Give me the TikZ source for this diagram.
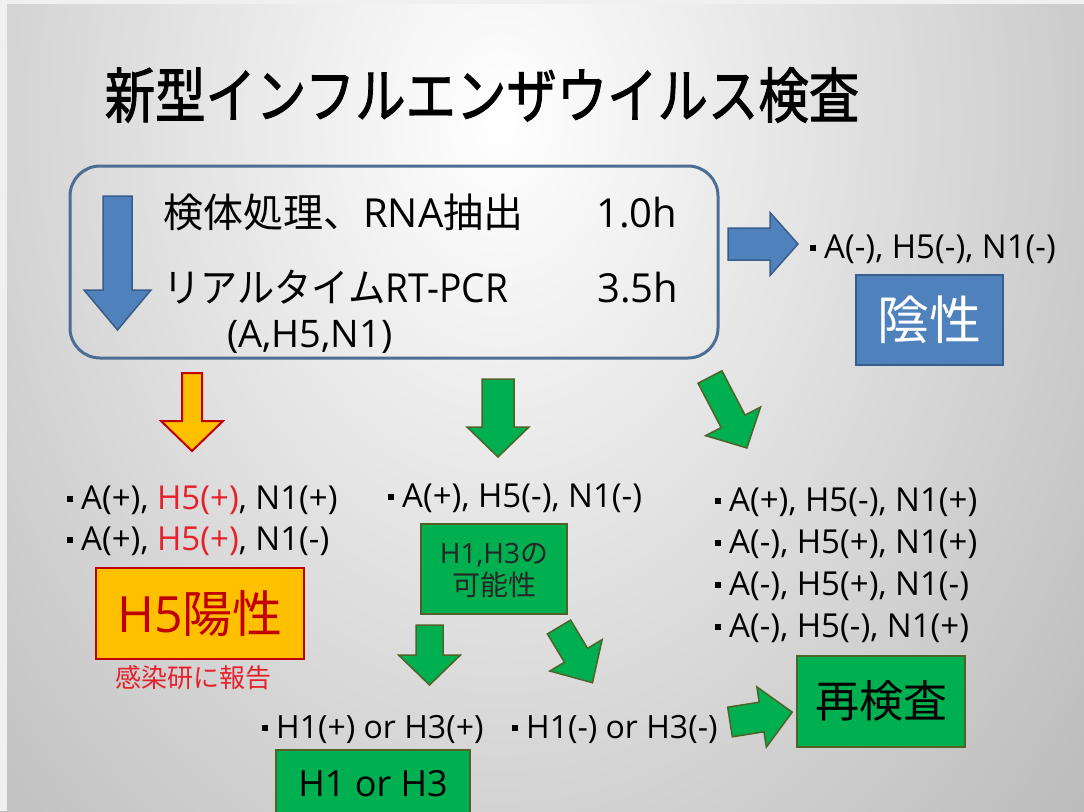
\documentclass[tikz,border=0pt]{standalone}
\usepackage{fontspec}
\usepackage{graphicx}
\setmainfont{Open Sans}
\newfontfamily\jp{Noto Sans CJK JP}
\newfontfamily\jpt[FakeBold=1.6]{Noto Sans CJK JP}
\definecolor{bluef}{HTML}{4F81BD}
\definecolor{blued}{HTML}{385D8A}
\definecolor{boxline}{HTML}{4A6E94}
\definecolor{orangef}{HTML}{FFC000}
\definecolor{redd}{HTML}{C00000}
\definecolor{redt}{HTML}{E8202A}
\definecolor{greenf}{HTML}{00B050}
\definecolor{greend}{HTML}{4F6228}
\newcommand\bul{\rule[7.5pt]{6pt}{6pt}\hspace{8pt}}
\tikzset{
  pics/barrow/.style args={#1/#2/#3/#4}{code={
    \path[pic actions] (-#1/2,0) -- (#1/2,0) -- (#1/2,#3) -- (#2/2,#3) -- (0,#4)
      -- (-#2/2,#3) -- (-#1/2,#3) -- cycle;
  }},
  base/.style={inner sep=0pt, text depth=0pt},
  t26/.style={base,font=\fontsize{26}{30}\selectfont,text height=19.2pt},
  t28/.style={base,font=\fontsize{28}{32}\selectfont,text height=20.7pt},
  t32/.style={base,font=\fontsize{32}{36}\selectfont,text height=23.7pt},
  t33/.style={base,font=\fontsize{33}{37}\selectfont,text height=24.4pt},
  t36/.style={base,font=\fontsize{36}{40}\selectfont,text height=26.6pt},
  t38/.style={base,font=\fontsize{38}{42}\selectfont,text height=28.1pt},
  t40/.style={base,font=\fontsize{40}{44}\selectfont,text height=29.6pt},
  t44/.style={base,font=\fontsize{44}{48}\selectfont,text height=32.6pt},
  t50/.style={base,font=\fontsize{50}{54}\selectfont,text height=37pt},
  t52/.style={base,font=\fontsize{52}{56}\selectfont,text height=38.5pt},
  item/.style={t33, anchor=west},
  hitem/.style={t32, anchor=west},
  bluearrow/.style={fill=bluef, draw=blued, line width=1.5pt},
  greenarrow/.style={fill=greenf, draw=greend, line width=1.5pt},
  orangearrow/.style={fill=orangef, draw=redd, line width=2pt},
  greenbox/.style={fill=greenf, draw=greend, line width=2pt},
}
\begin{document}
\begin{tikzpicture}[x=1pt,y=-1pt]
\useasboundingbox (0,0) rectangle (1084,811);
\begin{scope}
  \clip (0,0) rectangle (1084,811);
  \shade[inner color=white, outer color=black!55] (500,120) ellipse (1600pt and 2200pt);
  \fill[white!94!black] (0,0) rectangle (1084,4);
  \fill[white!94!black] (0,0) rectangle (7,811);
\end{scope}

% title
\node[font=\jpt\fontsize{60}{60}\selectfont] (title) at (482,95)
  {\scalebox{0.84}[1]{新型インフルエンザウイルス検査}};

% process box
\node[draw=boxline, line width=3pt, rounded corners=30pt,
      minimum width=648pt, minimum height=192pt] (proc) at (394,262) {};
\pic[bluearrow] (pa) at (117.5,196) {barrow={29/67/94/134}};
\node[t40, anchor=west] (s1) at (163,213) {{\jp 検体処理、}RNA{\jp 抽出}};
\node[t40, anchor=west] (s1t) at (596,213) {1.0h};
\node[t40, anchor=west] (s2) at (163,288) {\scalebox{0.93}[1]{{\jp リアルタイム}RT-PCR}};
\node[t40, anchor=west] (s2t) at (597,288) {3.5h};
\node[t38, anchor=west] (s3) at (227,333) {(A,H5,N1)};

% negative
\pic[bluearrow, rotate=90] (na) at (728,244) {barrow={32/63/42/70}};
\node[item] (n1) at (810,246) {\bul A(-), H5(-), N1(-)};
\node[t52, fill=bluef, draw=blued, line width=2pt, minimum width=147pt,
      minimum height=90pt, text=white] (neg) at (929.5,320) {\jp 陰性};

% H5 positive
\pic[orangearrow] (oa) at (192,373) {barrow={20/62/48/78}};
\node[item] (p1) at (67,497) {\bul A(+), \textcolor{redt}{H5(+)}, N1(+)};
\node[item] (p2) at (67,538) {\bul A(+), \textcolor{redt}{H5(+)}, N1(-)};
\node[t50, fill=orangef, draw=redd, line width=2.5pt, minimum width=208pt,
      minimum height=91pt, text=redd] (pos) at (200,613.5) {H5{\jp 陽性}};
\node[t26, text=redt] (rep) at (193,678) {\jp 感染研に報告};

% H1/H3 branch
\pic[greenarrow] (ga) at (498,379) {barrow={32/62/48/78}};
\node[item] (m1) at (388,495) {\bul A(+), H5(-), N1(-)};
\node[greenbox, minimum width=146pt, minimum height=90pt] (h13) at (494,569) {};
\node[t28, text=black!85] (h13a) at (494,553) {H1,H3{\jp の}};
\node[t28, text=black!85] (h13b) at (494,585) {\jp 可能性};
\pic[greenarrow] (gb) at (429.5,625) {barrow={27/62/30/60}};
\pic[greenarrow, rotate=31] (gc) at (559,627) {barrow={27/61/33/65}};
\node[hitem] (b1) at (262,727) {\bul H1(+) or H3(+)};
\node[hitem] (b2) at (512,727) {\bul H1(-) or H3(-)};
\node[t36, greenbox, minimum width=194pt, minimum height=66pt] (h1h3) at (373,783) {H1 or H3};

% retest branch
\pic[greenarrow, rotate=27.5] (gd) at (710,377) {barrow={27/62/50/80}};
\node[item] (r1) at (715,499) {\bul A(+), H5(-), N1(+)};
\node[item] (r2) at (715,541) {\bul A(-), H5(+), N1(+)};
\node[item] (r3) at (715,583) {\bul A(-), H5(+), N1(-)};
\node[item] (r4) at (715,625) {\bul A(-), H5(-), N1(+)};
\pic[greenarrow, rotate=99] (ge) at (730,722) {barrow={30/61/32/63}};
\node[t44, greenbox, minimum width=168pt, minimum height=91pt] (re) at (881,701.5) {\jp 再検査};
\end{tikzpicture}
\end{document}
